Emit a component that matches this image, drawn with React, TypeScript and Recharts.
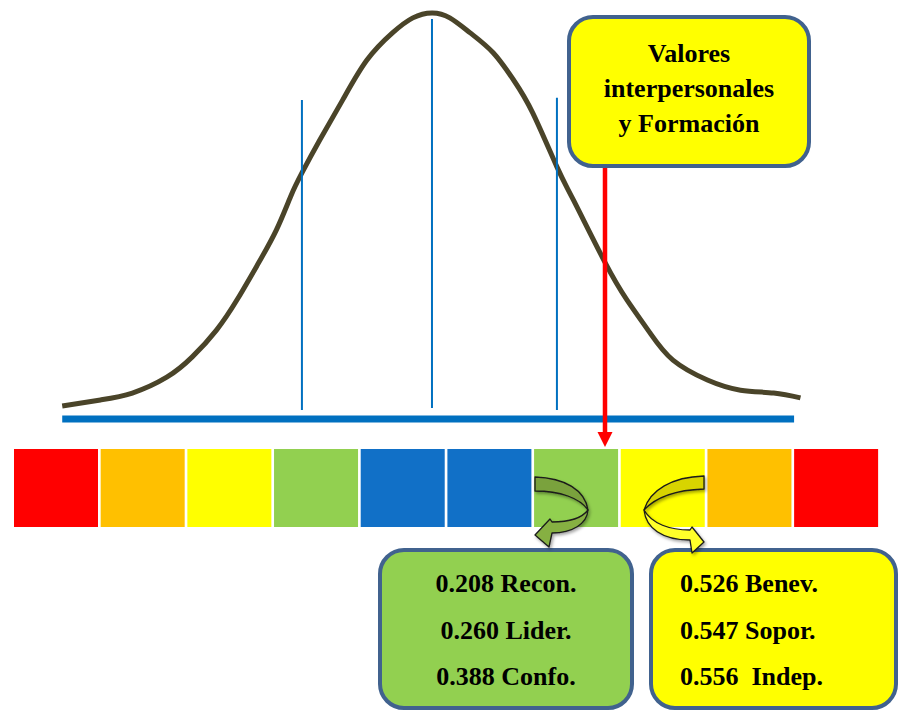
import {
  ComposedChart,
  Line,
  XAxis,
  YAxis,
  ReferenceLine,
  ReferenceDot,
  BarChart,
  Bar,
  Cell,
} from 'recharts';

// bell curve: z = distance from the mean in sigmas,
// h = height in % of the peak
const curveZ = [
  -2.9, -2.6, -2.35, -2.08, -1.88, -1.69, -1.53, -1.37, -1.22, -1.11, -1.02, -0.88, -0.7, -0.51, -0.31,
  -0.15, 0, 0.14, 0.3, 0.48, 0.64, 0.79, 0.98, 1.11, 1.36, 1.53, 1.71, 1.89, 2.16, 2.42, 2.68, 2.89,
];
const curveH = [
  3.2, 4.7, 6.4, 10.3, 15.3, 21.9, 29.3, 37.9, 46.6, 54.7, 60.6, 68.7, 78.6, 88.4, 95.1,
  98.8, 100, 98.8, 95.1, 90.2, 83.5, 75.4, 62.1, 53.9, 38.4, 29.3, 21.2, 14.5, 9.6, 7.1, 6.4, 5.2,
];

// the three thin guides (-1 sigma, mean, +1 sigma) and how high each one reaches
const guideZ = [-1.02, 0, 0.98];
const guideTop = [78.6, 98.5, 79.1];
const guideBottom = [2.2, 2.7, 2.2];

// baseline under the curve
const baseStart = -2.9;
const baseEnd = 2.84;

// red marker: where "Valores interpersonales y Formación" falls
const markerZ = 1.357;
const markerTop = 61.8;
const markerTip = -3.2;

const bandColors = [
  '#ff0000', '#ffc000', '#ffff00', '#92d050', '#1170c7',
  '#1170c7', '#92d050', '#ffff00', '#ffc000', '#ff0000',
];

const titleLines = ['Valores', 'interpersonales', 'y Formación'];
const lowValues = ['0.208', '0.260', '0.388'];
const lowLabels = ['Recon.', 'Lider.', 'Confo.'];
const highValues = ['0.526', '0.547', '0.556'];
const highLabels = ['Benev.', 'Sopor.', ' Indep.'];

const SERIF = '"Liberation Serif", "Times New Roman", serif';
const BOX_BORDER = '#41628e';

const curveData = curveZ.map((z, i) => ({ z, h: curveH[i] }));
const bandData = bandColors.map((_, i) => ({ band: i + 1, v: 1 }));

function Arrowhead(props: any) {
  const { cx, cy } = props;
  return <polygon points={`${cx - 7.5},${cy} ${cx + 7.5},${cy} ${cx},${cy + 15}`} fill="#ff0000" />;
}

const boxBase: React.CSSProperties = {
  position: 'absolute',
  boxSizing: 'border-box',
  border: `4.5px solid ${BOX_BORDER}`,
  borderRadius: 26,
  fontFamily: SERIF,
  fontWeight: 'bold',
  fontSize: 26,
  color: '#000',
};

export default function App() {
  return (
    <div
      style={{
        position: 'absolute',
        left: 0,
        top: 0,
        width: 898,
        height: 711,
        background: '#fff',
        overflow: 'hidden',
      }}
    >
      <div style={{ position: 'absolute', left: 0, top: 0 }}>
        <ComposedChart width={898} height={711} data={curveData} margin={{ top: 0, right: 0, bottom: 0, left: 0 }}>
          <XAxis dataKey="z" type="number" domain={[-3.388, 3.655]} allowDataOverflow hide />
          <YAxis type="number" domain={[-71.92, 103.2]} allowDataOverflow hide />
          <Line
            dataKey="h"
            type="natural"
            stroke="#4a4429"
            strokeWidth={5}
            dot={false}
            activeDot={false}
            isAnimationActive={false}
          />
          {guideZ.map((z, i) => (
            <ReferenceLine
              key={i}
              segment={[{ x: z, y: guideBottom[i] }, { x: z, y: guideTop[i] }]}
              stroke="#0070c0"
              strokeWidth={2}
            />
          ))}
          <ReferenceLine
            segment={[{ x: baseStart, y: 0 }, { x: baseEnd, y: 0 }]}
            stroke="#0070c0"
            strokeWidth={7}
          />
          <ReferenceLine
            segment={[{ x: markerZ, y: markerTop }, { x: markerZ, y: markerTip }]}
            stroke="#ff0000"
            strokeWidth={4.5}
          />
          <ReferenceDot x={markerZ} y={markerTip} r={1} shape={Arrowhead} />
        </ComposedChart>
      </div>

      <div style={{ position: 'absolute', left: 0, top: 449 }}>
        <BarChart
          width={898}
          height={78}
          data={bandData}
          margin={{ top: 0, right: 18.6, bottom: 0, left: 12.6 }}
          barCategoryGap={1.4}
        >
          <XAxis dataKey="band" hide />
          <YAxis domain={[0, 1]} hide />
          <Bar dataKey="v" isAnimationActive={false}>
            {bandColors.map((c, i) => (
              <Cell key={i} fill={c} />
            ))}
          </Bar>
        </BarChart>
      </div>

      {/* title box */}
      <div style={{ ...boxBase, left: 567, top: 15, width: 244, height: 153, background: '#ffff00' }}>
        <div style={{ position: 'absolute', left: 0, right: 0, top: 17, textAlign: 'center', lineHeight: '35px' }}>
          {titleLines.map((t) => (
            <div key={t}>{t}</div>
          ))}
        </div>
      </div>

      {/* lower scores */}
      <div style={{ ...boxBase, left: 378, top: 548, width: 256, height: 162, background: '#92d050' }}>
        <div style={{ position: 'absolute', left: 0, right: 0, top: 9, textAlign: 'center', lineHeight: '46.5px' }}>
          {lowValues.map((v, i) => (
            <div key={v}>{`${v} ${lowLabels[i]}`}</div>
          ))}
        </div>
      </div>

      {/* higher scores */}
      <div style={{ ...boxBase, left: 649, top: 548, width: 249, height: 162, background: '#ffff00' }}>
        <div style={{ position: 'absolute', left: 27, top: 9, lineHeight: '46.5px', whiteSpace: 'pre' }}>
          {highValues.map((v, i) => (
            <div key={v}>{`${v} ${highLabels[i]}`}</div>
          ))}
        </div>
      </div>

      {/* curved arrows */}
      <svg width={898} height={711} style={{ position: 'absolute', left: 0, top: 0, pointerEvents: 'none' }}>
        <defs>
          <filter id="sh" x="-20%" y="-20%" width="140%" height="140%">
            <feDropShadow dx="1.5" dy="2" stdDeviation="1.5" floodColor="#000" floodOpacity="0.35" />
          </filter>
        </defs>
        <g filter="url(#sh)" stroke="#1a1a1a" strokeWidth={1.3} strokeLinejoin="round">
          <path d="M535,477 C565,478 585,490 588,510 C580,498 560,491 535,491 Z" fill="#7aa23c" />
          <path
            d="M588,510 C587,524 572,533 552,533 L549,547 L535,535 L550,519 L552,522 C568,522 582,518 588,510 Z"
            fill="#86b043"
          />
          <path d="M704,476 C672,477 650,490 644,510 C655,498 675,490 704,489 Z" fill="#d8d400" />
          <path
            d="M644,510 C646,528 662,540 690,540 L692,553 L704,542 L692,527 L690,530 C670,530 652,524 644,510 Z"
            fill="#ffff2a"
          />
        </g>
      </svg>
    </div>
  );
}
